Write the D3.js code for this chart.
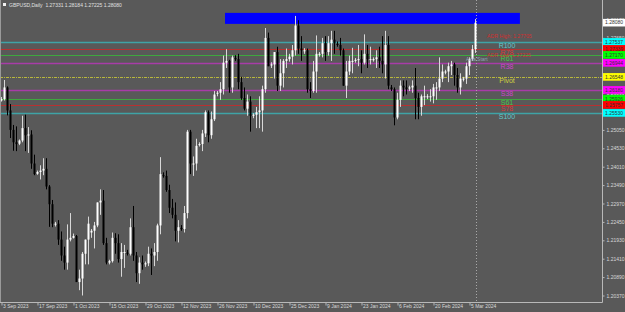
<!DOCTYPE html>
<html><head><meta charset="utf-8">
<script src="https://cdn.jsdelivr.net/npm/d3@7"></script>
<style>html,body{margin:0;padding:0;background:#595959;overflow:hidden}svg{display:block}</style>
</head><body>
<svg id="c" width="625" height="312"></svg>
<script>
// ---------- DATA ----------
const dates = ["2023-09-03","2023-09-04","2023-09-05","2023-09-06","2023-09-07","2023-09-08","2023-09-10","2023-09-11","2023-09-12","2023-09-13","2023-09-14","2023-09-15","2023-09-17","2023-09-18","2023-09-19","2023-09-20","2023-09-21","2023-09-22","2023-09-24","2023-09-25","2023-09-26","2023-09-27","2023-09-28","2023-09-29","2023-10-01","2023-10-02","2023-10-03","2023-10-04","2023-10-05","2023-10-06","2023-10-08","2023-10-09","2023-10-10","2023-10-11","2023-10-12","2023-10-13","2023-10-15","2023-10-16","2023-10-17","2023-10-18","2023-10-19","2023-10-20","2023-10-22","2023-10-23","2023-10-24","2023-10-25","2023-10-26","2023-10-27","2023-10-29","2023-10-30","2023-10-31","2023-11-01","2023-11-02","2023-11-03","2023-11-05","2023-11-06","2023-11-07","2023-11-08","2023-11-09","2023-11-10","2023-11-12","2023-11-13","2023-11-14","2023-11-15","2023-11-16","2023-11-17","2023-11-19","2023-11-20","2023-11-21","2023-11-22","2023-11-23","2023-11-24","2023-11-26","2023-11-27","2023-11-28","2023-11-29","2023-11-30","2023-12-01","2023-12-03","2023-12-04","2023-12-05","2023-12-06","2023-12-07","2023-12-08","2023-12-10","2023-12-11","2023-12-12","2023-12-13","2023-12-14","2023-12-15","2023-12-17","2023-12-18","2023-12-19","2023-12-20","2023-12-21","2023-12-22","2023-12-25","2023-12-26","2023-12-27","2023-12-28","2023-12-29","2023-12-31","2024-01-02","2024-01-03","2024-01-04","2024-01-05","2024-01-07","2024-01-08","2024-01-09","2024-01-10","2024-01-11","2024-01-12","2024-01-14","2024-01-15","2024-01-16","2024-01-17","2024-01-18","2024-01-19","2024-01-21","2024-01-22","2024-01-23","2024-01-24","2024-01-25","2024-01-26","2024-01-28","2024-01-29","2024-01-30","2024-01-31","2024-02-01","2024-02-02","2024-02-04","2024-02-05","2024-02-06","2024-02-07","2024-02-08","2024-02-09","2024-02-11","2024-02-12","2024-02-13","2024-02-14","2024-02-15","2024-02-16","2024-02-18","2024-02-19","2024-02-20","2024-02-21","2024-02-22","2024-02-23","2024-02-25","2024-02-26","2024-02-27","2024-02-28","2024-02-29","2024-03-01","2024-03-03","2024-03-04","2024-03-05","2024-03-06","2024-03-07"];

const opens = [1.2588,1.2592,1.2625,1.2560,1.2505,1.2470,1.2466,1.2475,1.2510,1.2490,1.2492,1.2410,1.2381,1.2386,1.2390,1.2395,1.2345,1.2295,1.2238,1.2240,1.2195,1.2150,1.2130,1.2195,1.2200,1.2205,1.2075,1.2085,1.2155,1.2195,1.2215,1.2220,1.2235,1.2300,1.2305,1.2185,1.2130,1.2134,1.2200,1.2185,1.2140,1.2160,1.2158,1.2155,1.2230,1.2150,1.2100,1.2130,1.2125,1.2128,1.2155,1.2150,1.2160,1.2235,1.2377,1.2375,1.2335,1.2285,1.2265,1.2220,1.2228,1.2225,1.2270,1.2500,1.2410,1.2410,1.2462,1.2465,1.2495,1.2555,1.2490,1.2535,1.2608,1.2610,1.2620,1.2695,1.2700,1.2625,1.2708,1.2705,1.2640,1.2595,1.2565,1.2585,1.2545,1.2548,1.2555,1.2560,1.2620,1.2765,1.2688,1.2690,1.2725,1.2630,1.2665,1.2700,1.2705,1.2712,1.2730,1.2800,1.2735,1.2728,1.2730,1.2620,1.2615,1.2670,1.2718,1.2720,1.2750,1.2725,1.2750,1.2760,1.2748,1.2745,1.2730,1.2630,1.2670,1.2700,1.2700,1.2703,1.2705,1.2695,1.2720,1.2705,1.2702,1.2705,1.2710,1.2700,1.2690,1.2745,1.2625,1.2620,1.2540,1.2590,1.2630,1.2625,1.2622,1.2625,1.2630,1.2595,1.2570,1.2600,1.2598,1.2600,1.2600,1.2625,1.2625,1.2650,1.2668,1.2670,1.2685,1.2690,1.2660,1.2625,1.2648,1.2650,1.2685,1.2705,1.27331];

const highs = [1.2598,1.2646,1.2628,1.2578,1.2519,1.2515,1.2478,1.2545,1.2548,1.2513,1.2504,1.2435,1.2390,1.2405,1.2425,1.2425,1.2349,1.2307,1.2245,1.2250,1.2218,1.2175,1.2238,1.2270,1.2212,1.2208,1.2110,1.2160,1.2195,1.2260,1.2225,1.2245,1.2300,1.2337,1.2335,1.2200,1.2138,1.2215,1.2213,1.2210,1.2185,1.2180,1.2166,1.2255,1.2290,1.2160,1.2145,1.2150,1.2133,1.2175,1.2170,1.2185,1.2240,1.2428,1.2385,1.2390,1.2350,1.2310,1.2300,1.2250,1.2236,1.2290,1.2505,1.2505,1.2430,1.2480,1.2470,1.2505,1.2560,1.2560,1.2557,1.2615,1.2615,1.2640,1.2715,1.2733,1.2703,1.2715,1.2716,1.2720,1.2655,1.2625,1.2605,1.2600,1.2552,1.2570,1.2600,1.2630,1.2793,1.2780,1.2696,1.2725,1.2740,1.2705,1.2705,1.2735,1.2720,1.2745,1.2827,1.2815,1.2770,1.2736,1.2735,1.2640,1.2700,1.2772,1.2725,1.2765,1.2770,1.2770,1.2785,1.2785,1.2755,1.2765,1.2735,1.2700,1.2715,1.2737,1.2708,1.2745,1.2730,1.2775,1.2745,1.2740,1.2710,1.2730,1.2740,1.2770,1.2785,1.2770,1.2632,1.2625,1.2610,1.2645,1.2645,1.2645,1.2630,1.2645,1.2680,1.2610,1.2605,1.2630,1.2606,1.2620,1.2635,1.2640,1.2710,1.2690,1.2675,1.2695,1.2700,1.2695,1.2680,1.2665,1.2655,1.2695,1.2710,1.2745,1.28184];

const lows = [1.2585,1.2588,1.2546,1.2482,1.2446,1.2445,1.2462,1.2470,1.2445,1.2440,1.2395,1.2377,1.2378,1.2365,1.2377,1.2337,1.2231,1.2230,1.2232,1.2180,1.2135,1.2110,1.2110,1.2190,1.2198,1.2075,1.2052,1.2037,1.2125,1.2125,1.2200,1.2170,1.2230,1.2265,1.2180,1.2125,1.2125,1.2130,1.2155,1.2130,1.2090,1.2115,1.2150,1.2150,1.2135,1.2075,1.2070,1.2110,1.2118,1.2120,1.2095,1.2120,1.2135,1.2210,1.2370,1.2330,1.2270,1.2255,1.2190,1.2187,1.2220,1.2215,1.2255,1.2380,1.2375,1.2390,1.2458,1.2445,1.2485,1.2470,1.2480,1.2530,1.2600,1.2590,1.2605,1.2680,1.2610,1.2610,1.2700,1.2620,1.2590,1.2560,1.2545,1.2500,1.2538,1.2510,1.2510,1.2500,1.2610,1.2685,1.2680,1.2650,1.2615,1.2615,1.2625,1.2680,1.2698,1.2690,1.2715,1.2720,1.2700,1.2720,1.2610,1.2595,1.2610,1.2610,1.2712,1.2710,1.2700,1.2715,1.2700,1.2720,1.2740,1.2715,1.2630,1.2595,1.2660,1.2665,1.2695,1.2685,1.2665,1.2690,1.2680,1.2690,1.2698,1.2680,1.2680,1.2665,1.2650,1.2620,1.2615,1.2518,1.2535,1.2570,1.2600,1.2605,1.2615,1.2610,1.2535,1.2535,1.2545,1.2575,1.2592,1.2585,1.2580,1.2590,1.2615,1.2640,1.2662,1.2640,1.2660,1.2630,1.2610,1.2605,1.2642,1.2635,1.2660,1.2700,1.27225];

const closes = [1.2592,1.2625,1.2560,1.2505,1.2470,1.2465,1.2475,1.2510,1.2490,1.2492,1.2410,1.2380,1.2386,1.2390,1.2395,1.2345,1.2295,1.2240,1.2240,1.2195,1.2150,1.2130,1.2195,1.2200,1.2205,1.2075,1.2085,1.2155,1.2195,1.2240,1.2220,1.2235,1.2300,1.2305,1.2185,1.2130,1.2134,1.2200,1.2185,1.2140,1.2160,1.2160,1.2155,1.2230,1.2150,1.2100,1.2130,1.2125,1.2128,1.2155,1.2150,1.2160,1.2235,1.2380,1.2375,1.2335,1.2285,1.2265,1.2220,1.2230,1.2225,1.2270,1.2500,1.2410,1.2410,1.2460,1.2465,1.2495,1.2555,1.2490,1.2535,1.2605,1.2610,1.2620,1.2695,1.2700,1.2625,1.2710,1.2705,1.2640,1.2595,1.2565,1.2585,1.2545,1.2548,1.2555,1.2560,1.2620,1.2765,1.2685,1.2690,1.2725,1.2630,1.2665,1.2700,1.2705,1.2712,1.2730,1.2800,1.2735,1.2730,1.2730,1.2620,1.2615,1.2670,1.2720,1.2720,1.2750,1.2725,1.2750,1.2760,1.2750,1.2745,1.2730,1.2630,1.2670,1.2700,1.2700,1.2703,1.2705,1.2695,1.2720,1.2705,1.2705,1.2705,1.2710,1.2700,1.2690,1.2745,1.2630,1.2620,1.2540,1.2590,1.2630,1.2625,1.2620,1.2625,1.2630,1.2595,1.2570,1.2600,1.2600,1.2600,1.2600,1.2625,1.2625,1.2650,1.2670,1.2670,1.2685,1.2690,1.2660,1.2625,1.2650,1.2650,1.2685,1.2705,1.2733,1.28080];

const dateTickDates = ["2023-09-03","2023-09-17","2023-10-01","2023-10-15","2023-10-29","2023-11-12","2023-11-26","2023-12-10","2023-12-25","2024-01-09","2024-01-23","2024-02-06","2024-02-20","2024-03-05"];
const dateTickLabels = ["3 Sep 2023","17 Sep 2023","1 Oct 2023","15 Oct 2023","29 Oct 2023","12 Nov 2023","26 Nov 2023","10 Dec 2023","25 Dec 2023","9 Jan 2024","23 Jan 2024","6 Feb 2024","20 Feb 2024","5 Mar 2024"];

const priceTicks = [1.28170,1.27650,1.27130,1.26610,1.26090,1.25570,1.25050,1.24530,1.24010,1.23490,1.22970,1.22450,1.21930,1.21410,1.20890,1.20370];

const levelNames  = ["R100","R78","R61","R38","Pivot","S38","S61","S78","S100"];
const levelValues = [1.27537,1.27339,1.27170,1.26944,1.26548,1.26180,1.25926,1.25757,1.25530];

const adrNames  = ["ADR High: 1.27705","ADR Low: 1.27225"];
const adrValues = [1.27705,1.27170];

const zoneTop = 1.28357, zoneBottom = 1.28046;
const zoneStart = "2023-11-29", zoneEnd = "2024-04-21";

const title = "GBPUSD,Daily  1.27331 1.28184 1.27225 1.28080";
const currentPrice = 1.28080;

// ---------- STYLE ----------
const levelStyle = {
  R100:{line:"#3fa3a6",box:"#00ffff",text:"#5fc9cc",w:1.6},
  S100:{line:"#3fa3a6",box:"#00ffff",text:"#5fc9cc",w:1.6},
  R78:{line:"#b83030",box:"#ff0000",text:"#d83a3a",w:1},
  S78:{line:"#b83030",box:"#ff0000",text:"#d83a3a",w:1},
  R61:{line:"#3ea83e",box:"#00ff00",text:"#46c846",w:1},
  S61:{line:"#3ea83e",box:"#00ff00",text:"#46c846",w:1},
  R38:{line:"#a83ca8",box:"#ff00ff",text:"#cc44cc",w:1.6},
  S38:{line:"#a83ca8",box:"#ff00ff",text:"#cc44cc",w:1.6},
  Pivot:{line:"#b8b83c",box:"#ffff00",text:"#d0d040",w:1,dash:"3,1,1,1"}
};
const FONT = "'Liberation Sans', Arial, sans-serif";

// ---------- CHART ----------
const W = 625, H = 312;
const plotRight = 602, plotBottom = 302;
const svg = d3.select("#c");

const x = d3.scaleBand().domain(dates).range([0, dates.length * 3]).padding(0);
const bw = x.bandwidth();
const cx = d => x(d) + bw / 2;
const y = d3.scaleLinear().domain([1.20370, 1.28170]).range([295.5, 19.5]);

svg.append("rect").attr("width", W).attr("height", H).attr("fill", "#595959");

svg.append("defs").append("clipPath").attr("id", "clip")
  .append("rect").attr("x", 0).attr("y", 0).attr("width", plotRight).attr("height", plotBottom);

const plot = svg.append("g").attr("clip-path", "url(#clip)");

// blue zone (background object)
plot.append("rect")
  .attr("x", x(zoneStart))
  .attr("y", y(zoneTop))
  .attr("width", plotRight)
  .attr("height", y(zoneBottom) - y(zoneTop))
  .attr("fill", "#0000ff")
  .each(function(){
    // end of zone: extend to fixed end index beyond data using the band step
    const startX = x(zoneStart);
    const endX = x(dates[dates.length-1]) + bw * 15.3;
    d3.select(this).attr("width", endX - startX);
  });

// level lines
levelNames.forEach((n, i) => {
  const st = levelStyle[n];
  const yy = Math.round(y(levelValues[i])) + 0.5;
  plot.append("line").attr("x1", 0).attr("x2", plotRight).attr("y1", yy).attr("y2", yy)
    .attr("stroke", st.line).attr("stroke-width", st.w)
    .attr("stroke-dasharray", st.dash || null);
});

// vertical dotted current-bar line
const vx = Math.round(cx(dates[dates.length - 1])) + 0.5;
plot.append("line").attr("x1", vx).attr("x2", vx).attr("y1", 0).attr("y2", plotBottom)
  .attr("stroke", "#a8a8a8").attr("stroke-width", 1).attr("stroke-dasharray", "1,2");

// candles
const bars = dates.map((d, i) => ({d, o: opens[i], h: highs[i], l: lows[i], c: closes[i]}));
const cg = plot.append("g");
cg.selectAll("line.wick").data(bars).join("line").attr("class", "wick")
  .attr("x1", b => cx(b.d)).attr("x2", b => cx(b.d))
  .attr("y1", b => y(b.h)).attr("y2", b => y(b.l))
  .attr("stroke", b => b.c >= b.o ? "#d8d8d8" : "#000000").attr("stroke-width", 1);
cg.selectAll("rect.body").data(bars).join("rect").attr("class", "body")
  .attr("x", b => x(b.d) + 0.5).attr("width", bw - 1)
  .attr("y", b => y(Math.max(b.o, b.c)))
  .attr("height", b => Math.max(1, Math.abs(y(b.o) - y(b.c))))
  .attr("fill", b => b.c >= b.o ? "#ffffff" : "#000000");

// level labels
levelNames.forEach((n, i) => {
  const st = levelStyle[n];
  plot.append("text").attr("x", 507).attr("y", y(levelValues[i]) + 6.2)
    .attr("text-anchor", "middle").attr("font-family", FONT).attr("font-size", 7)
    .attr("fill", st.text).text(n);
});
// ADR texts
adrNames.forEach((t, i) => {
  plot.append("text").attr("x", 487).attr("y", y(adrValues[i]) + 2)
    .attr("font-family", FONT).attr("font-size", 5.2).attr("fill", "#d03030").text(t);
});
plot.append("text").attr("x", 466).attr("y", 61).attr("font-family", FONT)
  .attr("font-size", 5).attr("fill", "#8fa2b8").text("Asia Start");

// frame
svg.append("line").attr("x1", 0.5).attr("x2", 0.5).attr("y1", 0).attr("y2", plotBottom)
  .attr("stroke", "#9a9a9a");
svg.append("line").attr("x1", plotRight + 0.5).attr("x2", plotRight + 0.5).attr("y1", 0).attr("y2", plotBottom + 0.5)
  .attr("stroke", "#b8b8b8");
svg.append("line").attr("x1", 0).attr("x2", plotRight + 0.5).attr("y1", plotBottom + 0.5).attr("y2", plotBottom + 0.5)
  .attr("stroke", "#b8b8b8");

// price axis
const yAxis = d3.axisRight(y).tickValues(priceTicks).tickSize(2).tickPadding(2)
  .tickFormat(d3.format(".5f"));
const ya = svg.append("g").attr("transform", `translate(${plotRight + 0.5},0)`).call(yAxis);
ya.select(".domain").remove();
ya.selectAll("line").attr("stroke", "#b8b8b8");
ya.selectAll("text").attr("fill", "#d8d8d8").attr("font-family", FONT).attr("font-size", 5);

// date axis
const xAxis = d3.axisBottom(d3.scaleLinear().domain([0, 1]).range([0, 1]))
  .tickValues(dateTickDates.map(d => cx(d)))
  .tickFormat((v, i) => dateTickLabels[i]).tickSize(3).tickPadding(1);
const xa = svg.append("g").attr("transform", `translate(0,${plotBottom + 0.5})`).call(xAxis);
xa.select(".domain").remove();
xa.selectAll("line").attr("stroke", "#b8b8b8");
xa.selectAll("text").attr("fill", "#d8d8d8").attr("font-family", FONT).attr("font-size", 5)
  .attr("text-anchor", "start").attr("dx", 1).attr("dy", "0.2em");

// price boxes on axis
const boxG = svg.append("g");
function priceBox(v, fill) {
  const yy = y(v);
  boxG.append("rect").attr("x", plotRight + 1).attr("y", yy - 3.8).attr("width", 24).attr("height", 7.6).attr("fill", fill);
  boxG.append("text").attr("x", plotRight + 3).attr("y", yy + 1.8).attr("font-family", FONT)
    .attr("font-size", 5).attr("fill", "#333").text(d3.format(".5f")(v));
}
levelNames.forEach((n, i) => priceBox(levelValues[i], levelStyle[n].box));
priceBox(currentPrice, "#ffffff");

// title
svg.append("rect").attr("x", 3).attr("y", 3).attr("width", 3).attr("height", 3).attr("fill", "#f0f0f0");
svg.append("text").attr("x", 9).attr("y", 7).attr("font-family", FONT).attr("font-size", 5)
  .attr("fill", "#e0e0e0").attr("xml:space", "preserve").style("white-space", "pre").text(title);
</script>
</body></html>
